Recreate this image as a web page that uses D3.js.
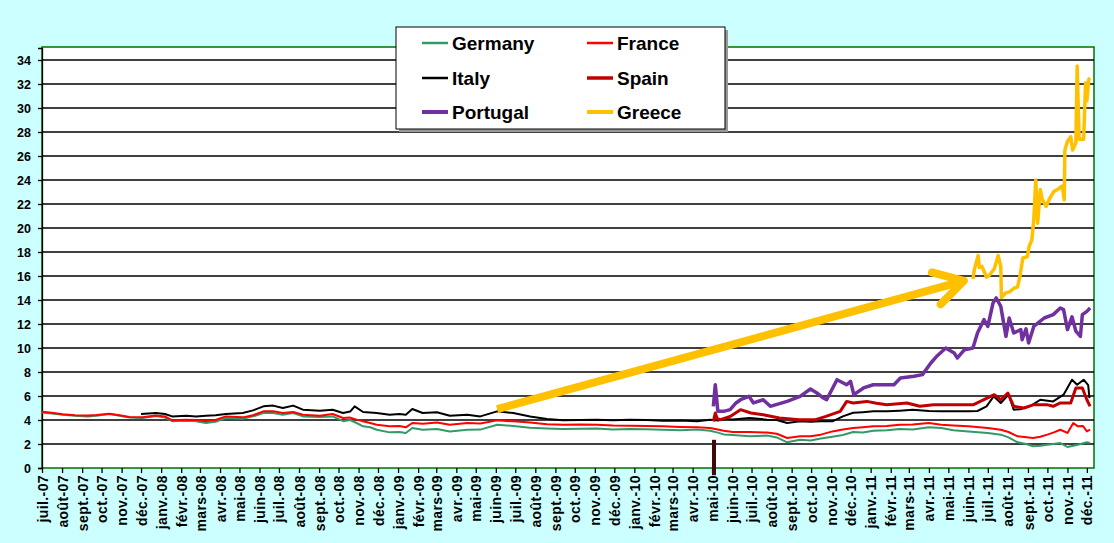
<!DOCTYPE html>
<html>
<head>
<meta charset="utf-8">
<script src="https://cdn.jsdelivr.net/npm/d3@7"></script>
<style>
  body { margin: 0; background: #ccffff; }
  svg { display: block; }
</style>
</head>
<body>
<svg id="chart" width="1114" height="543"></svg>
<script>
// 10 year government bond yields (%)
const germany = [
  ["2007-07-01",4.62],["2007-07-16",4.55],["2007-08-02",4.44],["2007-08-21",4.35],["2007-09-10",4.3],["2007-09-23",4.36],
  ["2007-10-13",4.5],["2007-10-29",4.35],["2007-11-13",4.2],["2007-12-03",4.17],["2007-12-24",4.33],["2008-01-07",4.2],
  ["2008-01-18",3.9],["2008-02-09",3.94],["2008-02-24",3.9],["2008-03-10",3.75],["2008-03-25",3.85],["2008-04-10",4.17],
  ["2008-05-06",4.1],["2008-05-22",4.3],["2008-06-07",4.58],["2008-06-22",4.58],["2008-07-07",4.44],["2008-07-23",4.58],
  ["2008-08-07",4.3],["2008-09-02",4.25],["2008-09-22",4.3],["2008-10-08",3.9],["2008-10-19",4.0],["2008-10-29",3.75],
  ["2008-11-08",3.47],["2008-11-19",3.4],["2008-11-29",3.19],["2008-12-19",2.97],["2009-01-03",3.0],["2009-01-13",2.92],
  ["2009-01-23",3.33],["2009-02-08",3.19],["2009-03-02",3.25],["2009-03-22",3.05],["2009-04-18",3.19],["2009-05-08",3.2],
  ["2009-06-03",3.6],["2009-06-28",3.5],["2009-07-24",3.35],["2009-08-19",3.3],["2009-09-13",3.25],["2009-10-09",3.28],
  ["2009-11-04",3.3],["2009-11-29",3.2],["2009-12-25",3.25],["2010-01-20",3.22],["2010-02-14",3.19],["2010-03-13",3.15],
  ["2010-04-08",3.2],["2010-04-28",3.1],["2010-05-10",2.95],["2010-05-19",2.8],["2010-06-02",2.75],["2010-06-28",2.64],
  ["2010-07-25",2.7],["2010-08-09",2.55],["2010-08-25",2.14],["2010-09-14",2.36],["2010-09-30",2.3],["2010-10-16",2.45],
  ["2010-11-03",2.6],["2010-11-19",2.75],["2010-12-05",3.0],["2010-12-20",2.95],["2011-01-05",3.1],["2011-01-26",3.15],
  ["2011-02-15",3.25],["2011-03-07",3.2],["2011-04-01",3.4],["2011-04-20",3.33],["2011-05-09",3.15],["2011-06-01",3.05],
  ["2011-07-01",2.92],["2011-07-21",2.78],["2011-08-02",2.55],["2011-08-16",2.14],["2011-08-29",2.0],["2011-09-09",1.81],
  ["2011-09-20",1.85],["2011-10-01",1.94],["2011-10-10",2.0],["2011-10-21",2.08],["2011-11-01",1.75],["2011-11-17",1.94],
  ["2011-12-01",2.14],["2011-12-06",2.08]
];
const france = [
  ["2007-07-01",4.68],["2007-07-16",4.6],["2007-08-02",4.48],["2007-08-21",4.4],["2007-09-10",4.38],["2007-09-23",4.42],
  ["2007-10-13",4.52],["2007-10-29",4.4],["2007-11-13",4.25],["2007-12-03",4.22],["2007-12-24",4.38],["2008-01-07",4.3],
  ["2008-01-18",3.97],["2008-02-09",4.03],["2008-02-24",4.0],["2008-03-10",3.9],["2008-03-25",4.0],["2008-04-10",4.3],
  ["2008-05-06",4.22],["2008-05-22",4.4],["2008-06-07",4.72],["2008-06-22",4.72],["2008-07-07",4.58],["2008-07-23",4.67],
  ["2008-08-07",4.44],["2008-09-02",4.36],["2008-09-22",4.5],["2008-10-08",4.17],["2008-10-19",4.2],["2008-10-29",4.03],
  ["2008-11-08",3.9],["2008-11-19",3.75],["2008-11-29",3.6],["2008-12-19",3.47],["2009-01-03",3.5],["2009-01-13",3.39],
  ["2009-01-23",3.75],["2009-02-08",3.69],["2009-03-02",3.8],["2009-03-22",3.6],["2009-04-18",3.75],["2009-05-08",3.7],
  ["2009-06-03",3.97],["2009-06-28",3.89],["2009-07-24",3.8],["2009-08-19",3.65],["2009-09-13",3.6],["2009-10-09",3.62],
  ["2009-11-04",3.6],["2009-11-29",3.55],["2009-12-25",3.53],["2010-01-20",3.5],["2010-02-14",3.47],["2010-03-13",3.42],
  ["2010-04-08",3.4],["2010-04-28",3.33],["2010-05-10",3.2],["2010-05-19",3.1],["2010-06-02",3.0],["2010-06-28",3.0],
  ["2010-07-25",2.95],["2010-08-09",2.85],["2010-08-25",2.5],["2010-09-14",2.64],["2010-09-30",2.65],["2010-10-16",2.78],
  ["2010-11-03",3.05],["2010-11-19",3.2],["2010-12-05",3.33],["2010-12-20",3.4],["2011-01-05",3.47],["2011-01-26",3.5],
  ["2011-02-15",3.6],["2011-03-07",3.62],["2011-04-01",3.75],["2011-04-20",3.6],["2011-05-09",3.55],["2011-06-01",3.47],
  ["2011-07-01",3.33],["2011-07-21",3.19],["2011-08-02",3.0],["2011-08-16",2.64],["2011-09-09",2.5],["2011-09-20",2.6],
  ["2011-10-01",2.78],["2011-10-10",2.95],["2011-10-21",3.19],["2011-11-01",2.92],["2011-11-10",3.75],["2011-11-17",3.47],
  ["2011-11-25",3.5],["2011-12-01",3.05],["2011-12-06",3.19]
];
const italy = [
  ["2007-12-01",4.5],["2007-12-24",4.58],["2008-01-07",4.5],["2008-01-18",4.3],["2008-02-09",4.36],["2008-02-24",4.3],
  ["2008-03-10",4.36],["2008-03-25",4.4],["2008-04-10",4.5],["2008-05-06",4.58],["2008-05-22",4.8],["2008-06-07",5.14],
  ["2008-06-22",5.2],["2008-07-07",5.0],["2008-07-23",5.2],["2008-08-07",4.86],["2008-09-02",4.78],["2008-09-22",4.86],
  ["2008-10-08",4.58],["2008-10-19",4.7],["2008-10-26",5.14],["2008-11-08",4.67],["2008-11-29",4.58],["2008-12-19",4.44],
  ["2009-01-03",4.5],["2009-01-13",4.44],["2009-01-23",4.92],["2009-02-08",4.58],["2009-03-02",4.64],["2009-03-22",4.36],
  ["2009-04-18",4.44],["2009-05-08",4.3],["2009-06-03",4.72],["2009-06-28",4.58],["2009-07-24",4.3],["2009-08-19",4.08],
  ["2009-09-13",3.97],["2009-10-09",4.0],["2009-11-04",4.03],["2009-11-29",3.97],["2009-12-25",4.03],["2010-01-20",4.0],
  ["2010-02-14",3.94],["2010-03-13",3.95],["2010-04-08",3.9],["2010-04-28",4.03],["2010-05-10",3.95],["2010-05-19",4.08],
  ["2010-06-02",4.05],["2010-06-28",4.17],["2010-07-25",4.03],["2010-08-09",4.0],["2010-08-25",3.75],["2010-09-14",3.89],
  ["2010-09-30",3.85],["2010-10-16",3.89],["2010-11-03",3.89],["2010-11-19",4.3],["2010-12-05",4.6],["2010-12-20",4.65],
  ["2011-01-05",4.72],["2011-01-26",4.72],["2011-02-15",4.78],["2011-03-07",4.86],["2011-04-01",4.75],["2011-04-20",4.72],
  ["2011-05-09",4.72],["2011-06-01",4.72],["2011-06-15",4.75],["2011-06-29",5.14],["2011-07-10",5.97],["2011-07-21",5.42],
  ["2011-08-02",6.11],["2011-08-10",4.86],["2011-08-20",4.9],["2011-09-06",5.2],["2011-09-20",5.69],["2011-10-10",5.55],
  ["2011-10-26",6.11],["2011-11-08",7.36],["2011-11-16",6.94],["2011-11-26",7.36],["2011-12-03",6.9],["2011-12-05",5.83]
];
const spain = [
  ["2010-05-03",3.89],["2010-05-06",4.58],["2010-05-09",4.1],["2010-05-14",4.03],["2010-05-29",4.3],["2010-06-14",4.86],
  ["2010-06-30",4.58],["2010-07-19",4.44],["2010-08-13",4.17],["2010-09-13",4.03],["2010-10-08",4.03],["2010-10-24",4.3],
  ["2010-11-15",4.72],["2010-11-25",5.55],["2010-12-05",5.42],["2010-12-26",5.55],["2011-01-10",5.4],["2011-01-26",5.28],
  ["2011-02-26",5.42],["2011-03-18",5.14],["2011-04-08",5.28],["2011-05-10",5.28],["2011-06-09",5.28],["2011-06-25",5.69],
  ["2011-07-11",6.11],["2011-07-21",5.69],["2011-08-01",6.25],["2011-08-10",5.14],["2011-08-26",5.0],["2011-09-10",5.28],
  ["2011-09-30",5.28],["2011-10-10",5.14],["2011-10-21",5.42],["2011-11-06",5.42],["2011-11-14",6.67],["2011-11-24",6.67],
  ["2011-12-01",5.69],["2011-12-06",5.14]
];
const portugal = [
  ["2010-05-03",5.14],["2010-05-06",6.94],["2010-05-10",4.72],["2010-05-19",4.72],["2010-05-29",4.86],["2010-06-07",5.42],
  ["2010-06-14",5.69],["2010-06-27",5.97],["2010-07-04",5.42],["2010-07-19",5.69],["2010-07-30",5.14],["2010-08-08",5.28],
  ["2010-08-25",5.55],["2010-09-14",5.97],["2010-09-30",6.58],["2010-10-10",6.25],["2010-10-20",5.83],["2010-10-25",5.69],
  ["2010-11-10",7.36],["2010-11-25",6.94],["2010-12-01",7.22],["2010-12-06",6.11],["2010-12-21",6.67],["2011-01-05",6.94],
  ["2011-01-21",6.94],["2011-02-06",6.94],["2011-02-16",7.5],["2011-03-09",7.64],["2011-03-22",7.78],["2011-04-04",8.75],
  ["2011-04-14",9.36],["2011-04-27",10.0],["2011-05-10",9.58],["2011-05-15",9.17],["2011-05-26",9.86],["2011-06-08",10.0],
  ["2011-06-15",11.25],["2011-06-25",12.36],["2011-07-01",11.8],["2011-07-09",13.75],["2011-07-14",14.17],["2011-07-21",13.47],
  ["2011-07-29",10.97],["2011-08-03",12.5],["2011-08-10",11.25],["2011-08-21",11.53],["2011-08-23",10.69],["2011-08-29",11.6],
  ["2011-09-02",10.42],["2011-09-10",11.8],["2011-09-26",12.5],["2011-10-10",12.78],["2011-10-21",13.33],["2011-10-26",13.2],
  ["2011-11-01",11.53],["2011-11-08",12.6],["2011-11-14",11.4],["2011-11-21",10.97],["2011-11-24",12.78],["2011-12-01",13.05],
  ["2011-12-06",13.33]
];
const greece = [
  ["2011-06-08",15.75],["2011-06-10",16.5],["2011-06-16",17.7],["2011-06-18",16.7],["2011-06-22",16.8],["2011-06-29",15.9],
  ["2011-07-04",16.1],["2011-07-11",16.6],["2011-07-17",17.7],["2011-07-21",16.8],["2011-07-22",14.2],["2011-07-29",14.6],
  ["2011-08-04",14.7],["2011-08-11",15.0],["2011-08-16",15.1],["2011-08-20",16.1],["2011-08-24",17.5],["2011-08-31",17.6],
  ["2011-09-03",18.5],["2011-09-07",19.0],["2011-09-10",20.7],["2011-09-13",24.0],["2011-09-16",20.4],["2011-09-20",23.2],
  ["2011-09-23",22.4],["2011-09-29",21.8],["2011-10-04",22.4],["2011-10-11",23.05],["2011-10-19",23.3],["2011-10-24",23.5],
  ["2011-10-27",22.36],["2011-10-28",26.5],["2011-11-01",27.2],["2011-11-06",27.6],["2011-11-09",26.5],["2011-11-14",27.1],
  ["2011-11-16",33.5],["2011-11-19",27.4],["2011-11-26",27.4],["2011-11-29",32.1],["2011-12-01",30.6],["2011-12-04",32.4],
  ["2011-12-06",32.5]
];

const seriesNames = ["Germany", "France", "Italy", "Spain", "Portugal", "Greece"];
const seriesColors = ["#339966", "#ff0000", "#000000", "#c00000", "#7030a0", "#ffc000"];
const seriesWidths = [2, 2, 2, 3, 3.5, 3.5];
const seriesData = [germany, france, italy, spain, portugal, greece];

const monthNames = ["janv.", "févr.", "mars", "avr.", "mai", "juin", "juil.", "août", "sept.", "oct.", "nov.", "déc."];
const yTicks = [0, 2, 4, 6, 8, 10, 12, 14, 16, 18, 20, 22, 24, 26, 28, 30, 32, 34];

// annotations: yellow arrow and the dark marker at mai-10
const arrowFrom = ["2009-06-03", 4.9];
const arrowTo = ["2011-05-25", 15.6];
const markerBar = ["2010-05-04", 2.35, -0.6];

const parse = d3.timeParse("%Y-%m-%d");
const svg = d3.select("#chart");
const fontFamily = "Arial, 'Liberation Sans', sans-serif";

const plotLeft = 42, plotRight = 1094, plotTop = 47, plotBottom = 468;

const x = d3.scaleTime()
  .domain([parse("2007-07-01"), parse("2011-12-12")])
  .range([plotLeft, plotRight]);
const y = d3.scaleLinear()
  .domain([0, 35])
  .range([plotBottom, plotBottom - 35 * 12]);

svg.append("rect")
  .attr("width", 1114).attr("height", 543)
  .attr("fill", "#ccffff");

svg.append("rect")
  .attr("x", plotLeft).attr("y", plotTop)
  .attr("width", plotRight - plotLeft).attr("height", plotBottom - plotTop)
  .attr("fill", "#fff")
  .attr("stroke", "#007000")
  .attr("stroke-width", 1.5);

// grid
svg.append("g")
  .selectAll("line")
  .data(yTicks.filter(d => d > 0))
  .join("line")
    .attr("x1", plotLeft).attr("x2", plotRight)
    .attr("y1", d => y(d)).attr("y2", d => y(d))
    .attr("stroke", "#000")
    .attr("stroke-width", 1.3);

// y axis
const yAxis = svg.append("g")
  .attr("transform", `translate(${plotLeft},0)`)
  .call(d3.axisLeft(y).tickValues(yTicks).tickSize(4).tickPadding(7));
yAxis.select(".domain").attr("stroke", "#000").attr("stroke-width", 1.3);
yAxis.selectAll(".tick line").attr("stroke", "#000").attr("stroke-width", 1.3);
yAxis.selectAll("text")
  .attr("font-family", fontFamily)
  .attr("font-size", 12.5)
  .attr("font-weight", "bold")
  .attr("fill", "#000");

// x axis, one tick per month
const months = d3.timeMonth.range(parse("2007-07-01"), parse("2011-12-02"));
const xAxis = svg.append("g")
  .attr("transform", `translate(0,${plotBottom})`)
  .call(d3.axisBottom(x)
    .tickValues(months)
    .tickSize(5)
    .tickFormat(d => monthNames[d.getMonth()] + "-" + d3.timeFormat("%y")(d)));
xAxis.select(".domain").remove();
xAxis.selectAll(".tick line").attr("stroke", "#000").attr("stroke-width", 1.3);
xAxis.selectAll("text")
  .attr("font-family", fontFamily)
  .attr("font-size", 14)
  .attr("font-weight", "bold")
  .attr("letter-spacing", 0.4)
  .attr("fill", "#000")
  .attr("text-anchor", "end")
  .attr("transform", "rotate(-90)")
  .attr("x", -7)
  .attr("y", 0)
  .attr("dy", "0.36em");

// lines
const line = d3.line()
  .x(d => x(parse(d[0])))
  .y(d => y(d[1]));

svg.append("g")
  .selectAll("path")
  .data(seriesData)
  .join("path")
    .attr("d", line)
    .attr("fill", "none")
    .attr("stroke", (d, i) => seriesColors[i])
    .attr("stroke-width", (d, i) => seriesWidths[i])
    .attr("stroke-linejoin", "round");

// marker bar at mai-10
svg.append("line")
  .attr("x1", x(parse(markerBar[0]))).attr("x2", x(parse(markerBar[0])))
  .attr("y1", y(markerBar[1])).attr("y2", y(markerBar[2]))
  .attr("stroke", "#3f0a0a")
  .attr("stroke-width", 4);

// yellow arrow
const ax0 = x(parse(arrowFrom[0])), ay0 = y(arrowFrom[1]);
const ax1 = x(parse(arrowTo[0])), ay1 = y(arrowTo[1]);
const ang = Math.atan2(ay0 - ay1, ax0 - ax1);
const headLen = 33, spread = Math.PI / 6;
const arrow = svg.append("g")
  .attr("stroke", "#ffc000")
  .attr("stroke-width", 8)
  .attr("fill", "none");
arrow.append("line")
  .attr("x1", ax0).attr("y1", ay0)
  .attr("x2", ax1).attr("y2", ay1);
arrow.append("path")
  .attr("stroke-linecap", "round")
  .attr("stroke-linejoin", "round")
  .attr("d", d3.line()([
    [ax1 + headLen * Math.cos(ang + spread), ay1 + headLen * Math.sin(ang + spread)],
    [ax1, ay1],
    [ax1 + headLen * Math.cos(ang - spread), ay1 + headLen * Math.sin(ang - spread)]
  ]));

// legend
const legend = svg.append("g");
legend.append("rect")
  .attr("x", 399).attr("y", 30)
  .attr("width", 329).attr("height", 102)
  .attr("fill", "#999");
legend.append("rect")
  .attr("x", 396).attr("y", 27)
  .attr("width", 329).attr("height", 102)
  .attr("fill", "#fff")
  .attr("stroke", "#000")
  .attr("stroke-width", 1);

const items = legend.selectAll("g.item")
  .data(seriesNames)
  .join("g")
    .attr("class", "item")
    .attr("transform", (d, i) => `translate(${i % 2 ? 587 : 422},${[43, 78, 112][Math.floor(i / 2)]})`);
items.append("line")
  .attr("x1", 0).attr("x2", 26)
  .attr("stroke", (d, i) => seriesColors[i])
  .attr("stroke-width", (d, i) => Math.min(seriesWidths[i] + 0.5, 4));
items.append("text")
  .attr("x", 30)
  .attr("dy", "0.36em")
  .attr("font-family", fontFamily)
  .attr("font-size", 19)
  .attr("font-weight", "bold")
  .attr("fill", "#000")
  .text(d => d);
</script>
</body>
</html>
